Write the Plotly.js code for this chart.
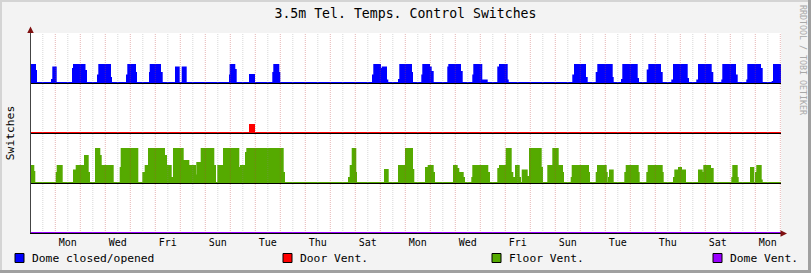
<!DOCTYPE html>
<html><head><meta charset="utf-8">
<script src="https://cdn.plot.ly/plotly-3.0.1.min.js"></script>
<style>html,body{margin:0;padding:0;background:#f3f3f3;}</style>
</head><body><div id="chart" style="width:811px;height:273px;"></div>
<script>
// ---- data (time in days from the left edge of the graph) ----
const dayLabels = ['Mon','Wed','Fri','Sun','Tue','Thu','Sat','Mon','Wed','Fri','Sun','Tue','Thu','Sat','Mon'];
const seriesNames = ['Dome closed/opened','Door Vent.','Floor Vent.','Dome Vent.'];
const seriesColors = ['#0000ff','#ff0000','#55aa00','#9900ff'];
const seriesOffsets = [3,2,1,0];
const spanDays = 30;
const firstMidnight = 0.972;

// [start time, value] steps; value holds until the next step
const domeSteps = [[0,0.36],[0.16,0.24],[0.2,0],
[0.84,0.06],[0.892,0.31],[0.988,0],
[1.68,0.28],[1.72,0.36],[2.14,0.24],[2.2,0],
[2.68,0.15],[2.732,0.36],[3.028,0.15],[3.052,0.36],[3.16,0.1],[3.2,0],
[3.84,0.15],[3.892,0.36],[4.16,0.2],[4.2,0],
[4.76,0.2],[4.788,0.36],[5.16,0.2],[5.228,0],
[5.8,0.31],[5.908,0],
[6.068,0.31],[6.188,0],
[7.96,0.15],[7.988,0.36],[8.132,0.26],[8.188,0],
[8.76,0.16],[8.92,0],
[9.692,0.2],[9.732,0.36],[9.892,0.2],[9.932,0],
[13.68,0.15],[13.732,0.36],[13.96,0.28],[14.028,0],
[14.068,0.31],[14.2,0.05],[14.252,0],
[14.72,0.06],[14.772,0.36],[14.948,0.3],[15.0,0.36],[15.2,0.2],[15.24,0],
[15.652,0.15],[15.692,0.36],[15.92,0.31],[15.988,0.22],[16.068,0],
[16.692,0.31],[16.732,0.36],[17.16,0.22],[17.228,0],
[17.692,0.15],[17.732,0.36],[18.012,0.05],[18.228,0],
[18.692,0.31],[18.76,0.36],[19.028,0.05],[19.068,0],
[21.692,0.15],[21.76,0.36],[22.16,0.1],[22.228,0],
[22.628,0.2],[22.692,0.36],[23.228,0.1],[23.268,0],
[23.64,0.06],[23.692,0.36],[24.228,0.08],[24.28,0],
[24.668,0.25],[24.732,0.36],[25.16,0.2],[25.228,0],
[25.652,0.05],[25.72,0.36],[26.228,0.08],[26.28,0],
[26.652,0.05],[26.72,0.36],[27.188,0.2],[27.252,0],
[27.652,0.05],[27.692,0.36],[28.16,0.15],[28.228,0],
[28.652,0.05],[28.692,0.36],[29.16,0.28],[29.228,0],
[29.668,0.02],[29.72,0.36]];

const doorSteps = [[0,0],[8.76,0.16],[8.92,0]];

const floorSteps = [[0,0.34],[0.092,0.22],[0.132,0],
[1.028,0.2],[1.068,0.34],[1.228,0],
[1.72,0.25],[1.828,0.34],[2.16,0.54],[2.268,0.2],[2.32,0],
[2.6,0.68],[2.732,0.54],[2.788,0.2],[2.828,0.34],[3.268,0],
[3.588,0.3],[3.628,0.68],[4.252,0],
[4.492,0.2],[4.588,0.34],[4.72,0.68],[5.32,0.54],[5.4,0.34],[5.588,0.1],[5.72,0.68],[5.92,0.44],[5.988,0.68],[6.068,0.44],[6.292,0.34],[6.56,0.15],[6.652,0.4],[6.828,0.68],[7.292,0.34],[7.36,0],
[7.492,0.34],[7.72,0.68],[8.292,0.3],[8.332,0.02],[8.4,0.34],[8.56,0.25],[8.6,0.6],[8.652,0.68],[10.068,0.2],[10.12,0],
[12.72,0.1],[12.788,0.34],[12.868,0.68],[12.972,0.2],[13.0,0],
[14.16,0.26],[14.268,0],
[14.72,0.34],[15.0,0.68],[15.24,0.26],[15.292,0],
[15.8,0.3],[15.908,0.34],[16.068,0.2],[16.12,0],
[16.92,0.34],[17.028,0.28],[17.092,0],[17.16,0.2],[17.268,0.1],[17.32,0],
[17.652,0.1],[17.692,0.34],[18.252,0.2],[18.32,0],
[18.692,0.28],[18.76,0.34],[18.892,0.2],[18.972,0.34],[19.028,0.68],[19.188,0.2],[19.252,0.1],[19.36,0],
[19.4,0.34],[19.508,0.1],[19.56,0],
[19.668,0.25],[19.828,0.12],[19.88,0],
[19.96,0.68],[20.388,0.3],[20.44,0],
[20.692,0.34],[20.892,0.68],[21.068,0.34],[21.24,0.2],[21.28,0],
[21.628,0.1],[21.668,0.34],[22.28,0.2],[22.32,0],
[22.628,0.2],[22.68,0.34],[22.788,0.05],[22.84,0.34],[22.988,0.2],[23.028,0],
[23.12,0.1],[23.16,0.25],[23.268,0],
[23.772,0.2],[23.828,0.34],[24.268,0.2],[24.308,0],
[24.652,0.2],[24.708,0.34],[25.228,0.2],[25.268,0],
[25.72,0.1],[25.772,0.25],[25.852,0],[25.92,0.3],[26.0,0.25],[26.16,0],
[26.72,0.25],[26.828,0.05],[26.892,0.2],[26.932,0.34],[27.16,0.28],[27.268,0],
[28.052,0.1],[28.092,0.34],[28.228,0.1],[28.268,0],
[28.8,0.3],[28.892,0],[29.0,0.2],[29.052,0.34],[29.188,0.05],[29.228,0]];

const domeVentSteps = [[0,0]];

// ---- build ----
const allSteps = [domeSteps, doorSteps, floorSteps, domeVentSteps];
const traces = [];
allSteps.forEach((steps, i) => {
  const off = seriesOffsets[i], color = seriesColors[i];
  traces.push({type:'scatter', mode:'lines', x:[0, spanDays], y:[off, off],
    line:{width:0, color:color}, showlegend:false, hoverinfo:'skip'});
  const x = [], y = [];
  steps.forEach(s => { x.push(s[0]); y.push(off + s[1]); });
  x.push(spanDays); y.push(off + steps[steps.length-1][1]);
  traces.push({type:'scatter', mode:'lines', x:x, y:y, name:seriesNames[i],
    line:{shape:'hv', color:color, width:2}, fill:'tonexty', fillcolor:color,
    showlegend:false, hoverinfo:'skip'});
});

const L = 31, T = 33, W = 750, H = 200;
const px = v => (v - L) / W;
const py = v => (T + H - v) / H;

const shapes = [];
for (let k = 0; k < spanDays; k++) {
  const noon = firstMidnight - 0.5 + k;
  const mid = firstMidnight + k;
  if (noon > 0 && noon < spanDays)
    shapes.push({type:'line', layer:'above', xref:'x', yref:'paper', x0:noon, x1:noon, y0:0, y1:1,
      line:{color:'rgba(140,140,140,0.35)', width:1, dash:'1px,1px'}});
  if (mid > 0 && mid < spanDays)
    shapes.push({type:'line', layer:'above', xref:'x', yref:'paper', x0:mid, x1:mid, y0:0, y1:1,
      line:{color:'rgba(190,60,60,0.38)', width:1, dash:'1px,1px'}});
}
seriesOffsets.forEach(off => {
  if (off > 0) shapes.push({type:'line', layer:'above', xref:'paper', yref:'y', x0:0, x1:1, y0:off-0.01, y1:off-0.01,
    line:{color:'#000', width:1}});
});
// frame
shapes.push({type:'rect', xref:'paper', yref:'paper', x0:px(0), x1:px(2), y0:py(273), y1:py(0), fillcolor:'#d4d4d4', line:{width:0}, layer:'below'});
shapes.push({type:'rect', xref:'paper', yref:'paper', x0:px(0), x1:px(811), y0:py(2), y1:py(0), fillcolor:'#d4d4d4', line:{width:0}, layer:'below'});
shapes.push({type:'rect', xref:'paper', yref:'paper', x0:px(808), x1:px(811), y0:py(273), y1:py(0), fillcolor:'#a0a0a0', line:{width:0}, layer:'below'});
shapes.push({type:'rect', xref:'paper', yref:'paper', x0:px(0), x1:px(811), y0:py(273), y1:py(270), fillcolor:'#a0a0a0', line:{width:0}, layer:'below'});

// legend (manual, RRDtool style)
const legendX = [15, 283, 492, 713];
const annotations = [];
seriesNames.forEach((n, i) => {
  shapes.push({type:'rect', xref:'paper', yref:'paper', x0:px(legendX[i]), x1:px(legendX[i]+9),
    y0:py(262.5), y1:py(253.5), fillcolor:seriesColors[i], line:{color:'#000', width:1}});
  annotations.push({xref:'paper', yref:'paper', x:px(legendX[i]+15), y:py(258.5), xanchor:'left', yanchor:'middle',
    text:n, showarrow:false, font:{size:11.3, color:'#000'}});
});
// axis arrows
annotations.push({xref:'paper', yref:'paper', x:px(30.5), y:py(26.5), ax:0, ay:5, text:'', showarrow:true,
  arrowhead:2, arrowsize:1.3, arrowwidth:1, arrowcolor:'#7f1010'});
annotations.push({xref:'paper', yref:'paper', x:px(787), y:py(233.5), ax:-5, ay:0, text:'', showarrow:true,
  arrowhead:2, arrowsize:1.3, arrowwidth:1, arrowcolor:'#7f1010'});
// watermark
annotations.push({xref:'paper', yref:'paper', x:px(803), y:py(60), text:'RRDTOOL / TOBI OETIKER', textangle:90,
  showarrow:false, font:{size:8.3, color:'#a8a8a8'}, xanchor:'center', yanchor:'middle'});

const tickvals = dayLabels.map((d, k) => firstMidnight + 0.5 + 2*k);

const layout = {
  width:811, height:273,
  margin:{l:L, r:811-L-W, t:T, b:273-T-H, pad:0},
  paper_bgcolor:'#f3f3f3', plot_bgcolor:'#ffffff',
  font:{family:'DejaVu Sans Mono', size:10, color:'#000'},
  showlegend:false,
  title:{text:'3.5m Tel. Temps. Control Switches', font:{size:13.2, color:'#000'},
    x:0.5, xref:'container', y:1-13.5/273, yref:'container', yanchor:'middle'},
  xaxis:{range:[0, spanDays], tickmode:'array', tickvals:tickvals, ticktext:dayLabels,
    showgrid:false, zeroline:false, showline:true, linecolor:'#000', linewidth:1, ticks:'',
    tickfont:{size:10}, fixedrange:true},
  yaxis:{range:[0, 4], showticklabels:false, showgrid:false, zeroline:false, showline:true,
    linecolor:'#444', linewidth:1, ticks:'', fixedrange:true,
    title:{text:'Switches', font:{size:11.3}, standoff:13}},
  shapes:shapes, annotations:annotations
};
Plotly.newPlot('chart', traces, layout, {displayModeBar:false, staticPlot:true});
</script></body></html>
